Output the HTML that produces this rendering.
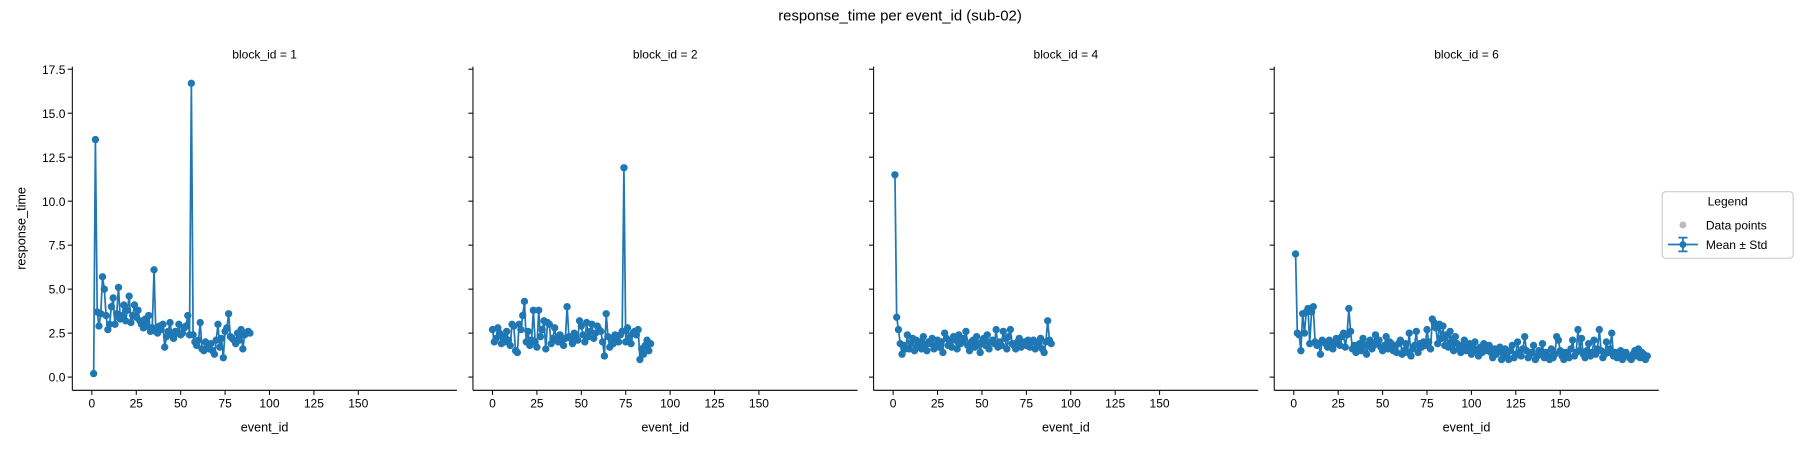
<!DOCTYPE html>
<html><head><meta charset="utf-8">
<style>
body{margin:0;background:#fff;}
svg text{font-family:"Liberation Sans","DejaVu Sans",sans-serif;fill:#000;}
</style></head>
<body>
<svg id="chart" width="1800" height="450" viewBox="0 0 1568 392" xmlns="http://www.w3.org/2000/svg">
<text x="784" y="18" font-size="13" text-anchor="middle">response_time per event_id (sub-02)</text>
<text transform="translate(22,199) rotate(-90)" font-size="11" text-anchor="middle">response_time</text>
<g id="panels"></g>
<g>
<rect x="1448" y="167" width="114" height="58" rx="3" fill="#fff" stroke="#ccc"/>
<text x="1505" y="179" font-size="10.5" text-anchor="middle">Legend</text>
<circle cx="1466" cy="196" r="3" fill="#bbb"/>
<text x="1486" y="200" font-size="10.5">Data points</text>
<line x1="1453" y1="213" x2="1479" y2="213" stroke="#1f77b4" stroke-width="1.5"/>
<line x1="1466" y1="207" x2="1466" y2="219" stroke="#1f77b4" stroke-width="1.5"/>
<line x1="1462" y1="207" x2="1470" y2="207" stroke="#1f77b4" stroke-width="1.5"/>
<line x1="1462" y1="219" x2="1470" y2="219" stroke="#1f77b4" stroke-width="1.5"/>
<circle cx="1466" cy="213" r="3" fill="#1f77b4"/>
<text x="1486" y="217" font-size="10.5">Mean ± Std</text>
</g>
</svg>
<script>
const panelTitles = ["block_id = 1","block_id = 2","block_id = 4","block_id = 6"];
const startIds = [1,0,1,1];
const block1 = [0.2,13.5,3.7,2.9,3.6,5.7,5.0,3.5,2.7,3.0,4.0,4.5,3.0,3.6,5.1,3.3,3.5,4.1,3.2,3.8,4.6,3.1,3.5,4.1,3.4,3.8,3.2,3.0,2.8,3.3,2.9,3.5,2.6,2.8,6.1,2.6,2.5,2.9,2.7,3.0,1.7,2.3,2.6,3.1,2.4,2.2,2.6,2.5,3.0,2.4,2.5,2.8,2.9,3.5,2.4,16.7,2.4,2.0,1.8,2.1,3.1,1.6,1.5,2.0,1.7,1.6,1.9,1.5,1.3,2.1,3.0,1.7,2.2,1.1,2.6,2.8,3.6,2.3,2.2,2.1,1.9,2.5,2.1,2.7,1.6,2.4,2.5,2.6,2.5];
const block2 = [2.7,2.0,2.2,2.8,2.5,1.9,2.3,2.0,2.6,2.1,1.8,3.0,2.9,1.5,1.4,3.0,2.7,3.5,4.3,2.0,2.6,1.8,2.1,3.8,2.0,1.7,3.8,2.3,2.7,3.2,1.6,3.1,3.0,1.9,2.2,2.8,2.1,2.0,2.4,2.1,1.8,2.2,4.0,2.3,2.2,1.9,2.5,2.3,2.1,3.2,2.9,2.4,2.0,3.1,2.3,2.6,3.0,2.2,2.5,2.9,2.7,2.6,2.0,1.2,3.6,2.3,1.7,2.2,1.9,2.4,2.1,2.0,2.4,2.6,11.9,2.0,2.8,2.2,1.9,2.5,2.6,2.4,2.7,1.0,1.6,1.3,1.8,2.1,1.5,1.9];
const block4 = [11.5,3.4,2.7,1.9,1.3,1.8,1.6,2.4,1.6,1.9,2.2,1.5,2.1,1.7,2.0,1.6,2.3,1.8,1.5,2.0,1.9,2.2,1.6,1.8,2.1,1.7,2.0,1.4,2.5,2.2,1.8,2.0,1.7,2.3,2.1,1.6,2.4,1.9,2.0,2.2,2.6,1.8,1.5,2.0,2.1,1.7,2.3,1.9,1.4,2.0,2.2,1.8,2.4,1.6,2.0,2.1,1.9,2.7,1.7,2.0,1.8,2.6,2.2,1.6,2.3,2.7,1.9,1.8,1.6,2.0,2.2,1.7,1.9,2.0,1.8,2.1,1.7,2.0,2.1,1.6,1.9,1.8,2.2,1.6,1.4,2.0,3.2,2.1,1.9];
const block6 = [7.0,2.5,2.4,1.5,3.6,2.5,3.7,3.9,1.9,3.7,4.0,2.0,1.8,1.9,1.3,2.1,2.0,1.9,1.7,2.1,2.0,1.6,1.9,2.2,2.0,1.8,2.3,2.5,1.7,2.4,3.9,2.6,1.6,1.8,1.4,1.6,1.9,1.5,2.2,1.8,1.3,1.9,2.1,1.6,1.8,2.4,1.9,2.1,1.7,1.5,1.8,2.3,1.6,2.0,1.9,1.5,1.7,1.4,1.9,2.1,1.3,1.5,1.9,1.4,2.5,1.2,1.6,1.8,2.6,1.4,1.9,1.7,2.0,1.8,2.7,2.0,1.6,3.3,3.1,2.8,1.9,3.0,2.2,2.9,1.8,2.4,1.7,2.6,2.0,1.5,2.3,1.9,1.6,1.4,1.8,2.1,1.5,1.7,1.9,1.3,1.6,2.0,1.5,1.2,1.7,1.4,1.9,1.6,1.5,1.8,1.4,1.1,1.6,1.3,1.5,1.7,1.0,1.4,1.6,1.2,1.0,1.5,1.8,1.1,1.3,2.0,1.4,1.2,1.6,2.3,1.5,1.1,1.3,1.4,1.8,1.0,1.2,1.5,1.3,1.9,1.1,1.4,1.2,1.0,1.6,1.1,1.3,2.3,2.1,1.5,1.2,1.0,1.4,1.3,1.1,1.6,2.1,1.2,1.4,2.7,1.5,2.2,1.3,1.1,1.5,1.9,1.2,1.4,2.1,1.3,1.6,2.7,1.5,1.1,1.3,2.0,1.4,1.6,2.5,1.2,1.4,1.1,1.3,1.5,1.0,1.3,1.4,1.2,1.1,1.0,1.3,1.5,1.2,1.6,1.1,1.4,1.3,1.0,1.2];
const seriesList = [block1, block2, block4, block6];
const xTicks = [0,25,50,75,100,125,150];
const yTicks = [0,2.5,5,7.5,10,12.5,15,17.5];
const yTickLabels = ["0.0","2.5","5.0","7.5","10.0","12.5","15.0","17.5"];

const NS = "http://www.w3.org/2000/svg";
const panelLefts = [63,412,761,1110];
const panelW = 335, plotTop = 58, plotBottom = 340;
const xMin = -11, xMax = 205.5, yMin = -0.75, yMax = 17.65;
function mk(tag, attrs, parent){const e=document.createElementNS(NS,tag);for(const k in attrs)e.setAttribute(k,attrs[k]);parent.appendChild(e);return e;}
const root = document.getElementById('panels');
seriesList.forEach((vals, p) => {
  const L = panelLefts[p];
  const sx = v => L + (v - xMin) / (xMax - xMin) * panelW;
  const sy = v => plotBottom - (v - yMin) / (yMax - yMin) * (plotBottom - plotTop);
  const g = mk('g', {}, root);
  
  
  const t = mk('text', {x: L + panelW/2, y: 51, 'font-size': 10.5, 'text-anchor': 'middle'}, g);
  t.textContent = panelTitles[p];
  
  
  const ax = mk('line', {x1: L, y1: plotBottom, x2: L + panelW, y2: plotBottom, stroke: '#000', 'stroke-width': 0.9}, g);
  
  
  const ay = mk('line', {x1: L, y1: plotTop, x2: L, y2: plotBottom, stroke: '#000', 'stroke-width': 0.9}, g);
  
  
  xTicks.forEach(v => {
    const x = sx(v);
    mk('line', {x1: x, y1: plotBottom, x2: x, y2: plotBottom + 4, stroke: '#000', 'stroke-width': 0.9}, g);
    const tl = mk('text', {x: x, y: plotBottom + 15, 'font-size': 10.5, 'text-anchor': 'middle'}, g);
    tl.textContent = v;
    
    
  });
  yTicks.forEach((v, i) => {
    const y = sy(v);
    mk('line', {x1: L - 4, y1: y, x2: L, y2: y, stroke: '#000', 'stroke-width': 0.9}, g);
    if (p === 0) {
      const tl = mk('text', {x: L - 6, y: y + 4, 'font-size': 10.5, 'text-anchor': 'end'}, g);
      tl.textContent = yTickLabels[i];
      
      
    }
  });
  const xl = mk('text', {x: L + panelW/2, y: 376, 'font-size': 11, 'text-anchor': 'middle'}, g);
  xl.textContent = 'event_id';
  
  
  const pts = vals.map((v, i) => sx(startIds[p] + i).toFixed(1) + ',' + sy(v).toFixed(1)).join(' ');
  const line = mk('polyline', {points: pts, fill: 'none', stroke: '#1f77b4', 'stroke-width': 1.5}, g);
  
  
  vals.forEach((v, i) => {
    const c = mk('circle', {cx: sx(startIds[p] + i), cy: sy(v), r: 3.2, fill: '#1f77b4'}, g);
    
    
  });
});
</script>
</body></html>
